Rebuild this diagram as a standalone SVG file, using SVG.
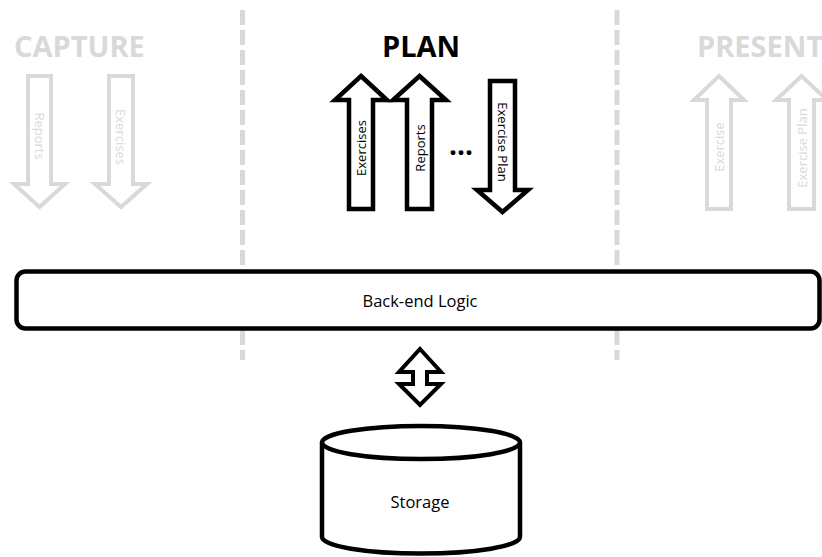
<svg xmlns="http://www.w3.org/2000/svg" width="822" height="557" viewBox="0 0 822 557">
  <style>
    .bg { fill: #ffffff; }
    .divider { fill: none; stroke: #d9d9d9; stroke-width: 5; stroke-dasharray: 15 5; }
    .title { font-family: "Open Sans", "Liberation Sans", sans-serif; font-weight: bold; font-size: 29px; }
    .title-dim { fill: #d9d9d9; }
    .title-on { fill: #000000; }
    .arrow-on { fill: #ffffff; stroke: #000000; stroke-width: 4.5; stroke-linejoin: miter; }
    .arrow-dim { fill: #ffffff; stroke: #d9d9d9; stroke-width: 4; stroke-linejoin: miter; }
    .lbl { font-family: "Open Sans", "Liberation Sans", sans-serif; font-size: 13px; text-anchor: middle; dominant-baseline: central; }
    .lbl-on { fill: #000000; }
    .lbl-dim { fill: #d9d9d9; }
    .box { fill: #ffffff; stroke: #000000; stroke-width: 4.5; }
    .boxtext { font-family: "Open Sans", "Liberation Sans", sans-serif; font-size: 16.5px; fill: #000000; text-anchor: middle; dominant-baseline: central; }
  </style>

  <rect class="bg" x="0" y="0" width="822" height="557"/>

  <!-- column dividers -->
  <g id="dividers">
    <line class="divider" x1="242.5" y1="10" x2="242.5" y2="360"/>
    <line class="divider" x1="617" y1="10" x2="617" y2="360"/>
  </g>

  <!-- CAPTURE column -->
  <g id="capture">
    <text class="title title-dim" x="14" y="57">CAPTURE</text>
    <g id="capture-reports">
      <polygon class="arrow-dim" points="28,76 51,76 51,184 65,184 39.5,207 14,184 28,184"/>
      <text class="lbl lbl-dim" transform="translate(39.5,136) rotate(90)">Reports</text>
    </g>
    <g id="capture-exercises">
      <polygon class="arrow-dim" points="109,76 133,76 133,184 147,184 121,207 95,184 109,184"/>
      <text class="lbl lbl-dim" transform="translate(121,137) rotate(90)">Exercises</text>
    </g>
  </g>

  <!-- PLAN column -->
  <g id="plan">
    <text class="title title-on" x="382" y="57">PLAN</text>
    <g id="plan-exercises">
      <polygon class="arrow-on" points="361,76 387,100 373,100 373,209 349,209 349,100 335,100"/>
      <text class="lbl lbl-on" transform="translate(361,148) rotate(-90)">Exercises</text>
    </g>
    <g id="plan-reports">
      <polygon class="arrow-on" points="419.5,76 446,100 432,100 432,209 407,209 407,100 393,100"/>
      <text class="lbl lbl-on" transform="translate(419.5,148) rotate(-90)">Reports</text>
    </g>
    <text class="title title-on" x="461" y="155" style="font-size:28px" text-anchor="middle">...</text>
    <g id="plan-exercise-plan">
      <polygon class="arrow-on" points="490,81 515,81 515,190 528,190 502.5,212 477,190 490,190"/>
      <text class="lbl lbl-on" transform="translate(502.5,142) rotate(90)">Exercise Plan</text>
    </g>
  </g>

  <!-- PRESENT column -->
  <g id="present">
    <text class="title title-dim" x="697" y="57">PRESENT</text>
    <g id="present-exercise">
      <polygon class="arrow-dim" points="719,76 744,100 731,100 731,209 707,209 707,100 694,100"/>
      <text class="lbl lbl-dim" transform="translate(719,147) rotate(-90)">Exercise</text>
    </g>
    <g id="present-exercise-plan">
      <polygon class="arrow-dim" points="801.5,76 827,100 814,100 814,209 789,209 789,100 776,100"/>
      <text class="lbl lbl-dim" transform="translate(801.5,148) rotate(-90)">Exercise Plan</text>
    </g>
  </g>

  <!-- back-end logic layer -->
  <g id="backend">
    <rect class="box" x="16.5" y="271.5" width="803" height="57" rx="9"/>
    <text class="boxtext" x="420" y="300">Back-end Logic</text>
  </g>

  <!-- link between logic and storage -->
  <g id="connectors">
    <polygon class="arrow-on" style="stroke-width:4" points="420,349 441,372 427,372 427,384 441,384 420,405 399,384 413,384 413,372 399,372"/>
  </g>

  <!-- storage cylinder -->
  <g id="storage">
    <path class="box" d="M322,442.5 L322,537 A99,16.5 0 0 0 520,537 L520,442.5"/>
    <ellipse class="box" cx="421" cy="442.5" rx="99" ry="16.5"/>
    <text class="boxtext" x="420" y="501">Storage</text>
  </g>
</svg>
